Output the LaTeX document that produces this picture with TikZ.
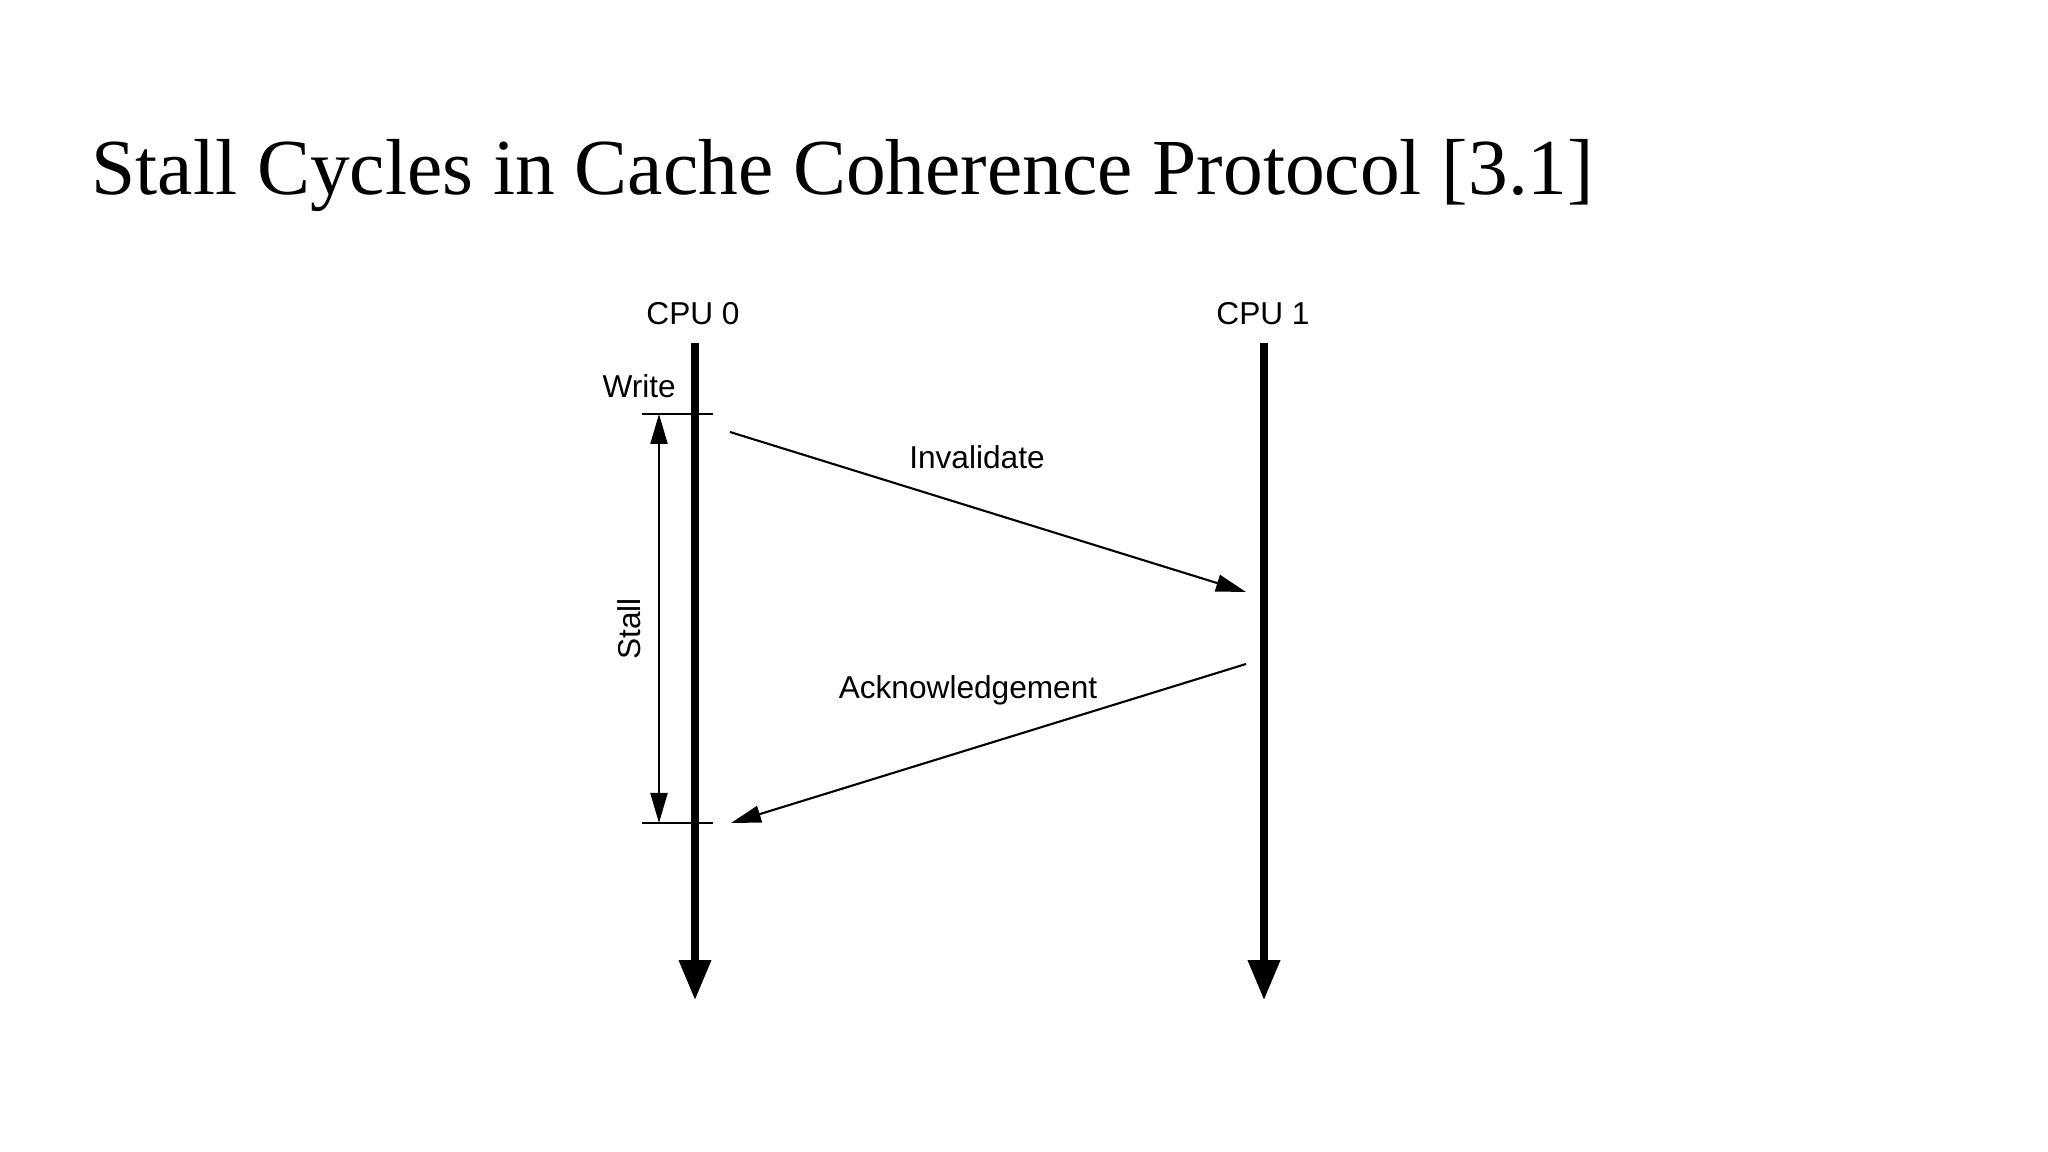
\documentclass[tikz,border=0pt]{standalone}
\usepackage{fontspec}
\setmainfont{Liberation Serif}
\newfontfamily\diagfont{Liberation Sans}
\usetikzlibrary{arrows.meta}

\begin{document}
\begin{tikzpicture}[
    timeline/.style={line width=2pt, -{Triangle[length=0.4cm, width=0.31cm]}},
    msg/.style={line width=0.6pt, -{Triangle[length=0.3cm, width=0.17cm]}},
    label/.style={font=\diagfont\fontsize{9}{11}\selectfont, inner sep=1pt}
]
    % Page frame (2048 x 1152)
    \useasboundingbox (0,0) rectangle (20.48,-11.52);

    % Title
    \node[anchor=base west, inner sep=0pt, font=\fontsize{22.6}{27}\selectfont] (title) at (0.91,-1.95) {Stall Cycles in Cache Coherence Protocol [3.1]};

    % The two processors
    \node[label] (cpu0) at (6.93,-3.14) {CPU 0};
    \node[label] (cpu1) at (12.63,-3.14) {CPU 1};
    \coordinate (cpu0top) at (6.95,-3.43);
    \coordinate (cpu0end) at (6.95,-10.0);
    \coordinate (cpu1top) at (12.64,-3.43);
    \coordinate (cpu1end) at (12.64,-10.0);
    \draw[timeline] (cpu0top) -- (cpu0end);
    \draw[timeline] (cpu1top) -- (cpu1end);

    % Start and end of the stall
    \coordinate (wl) at (6.42,-4.14);
    \coordinate (wr) at (7.13,-4.14);
    \coordinate (al) at (6.42,-8.23);
    \coordinate (ar) at (7.13,-8.23);
    \draw[line width=0.6pt] (wl) -- (wr);
    \draw[line width=0.6pt] (al) -- (ar);
    \node[label, anchor=east] (write) at (6.80,-3.86) {Write};

    % Stall interval
    \coordinate (stop) at (6.59,-4.14);
    \coordinate (sbot) at (6.59,-8.23);
    \draw[line width=0.6pt, {Triangle[length=0.3cm, width=0.17cm]}-{Triangle[length=0.3cm, width=0.17cm]}] (stop) -- (sbot);
    \node[label, rotate=90] (stall) at (6.29,-6.29) {Stall};

    % Messages
    \coordinate (invs) at (7.30,-4.32);
    \coordinate (inve) at (12.46,-5.92);
    \draw[msg] (invs) -- (inve);
    \node[label] (inv) at (9.77,-4.57) {Invalidate};

    \coordinate (acks) at (12.46,-6.64);
    \coordinate (acke) at (7.31,-8.23);
    \draw[msg] (acks) -- (acke);
    \node[label] (ack) at (9.68,-6.90) {Acknowledgement};

\end{tikzpicture}
\end{document}
